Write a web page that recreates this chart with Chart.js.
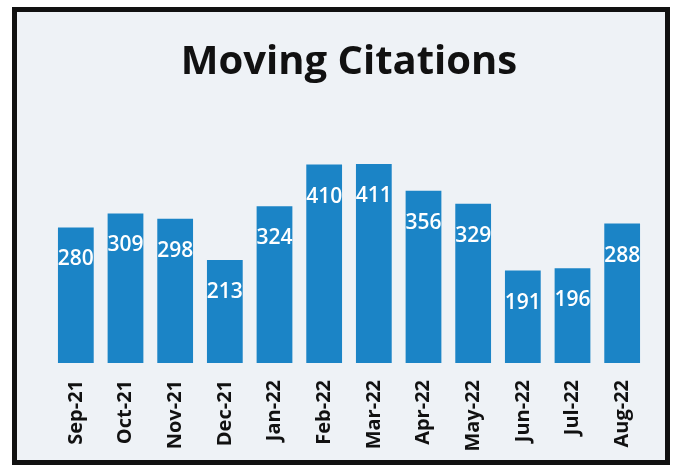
<!DOCTYPE html>
<html>
<head>
<meta charset="utf-8">
<script src="https://cdn.jsdelivr.net/npm/chart.js@4/dist/chart.umd.min.js"></script>
<style>
    body { margin: 0; background: #ffffff; }
    #frame {
        position: absolute;
        left: 12px;
        top: 7px;
        width: 658px;
        height: 458px;
        box-sizing: border-box;
        border: 5px solid #111111;
        background: #eef2f6;
    }
    #frame canvas { display: block; }
</style>
</head>
<body>
<div id="frame"><canvas id="citationChart" width="648" height="448"></canvas></div>
<script>
const months = ["Sep-21", "Oct-21", "Nov-21", "Dec-21", "Jan-22", "Feb-22",
                "Mar-22", "Apr-22", "May-22", "Jun-22", "Jul-22", "Aug-22"];
const citations = [280, 309, 298, 213, 324, 410, 411, 356, 329, 191, 196, 288];

document.addEventListener("DOMContentLoaded", () => {

    const canvas = document.getElementById("citationChart");

    // white numbers sitting just under the top of each bar
    const valueLabels = {
        id: "valueLabels",
        afterDatasetsDraw(chart) {
            const ctx = chart.ctx;
            const meta = chart.getDatasetMeta(0);
            ctx.save();
            ctx.fillStyle = "#ffffff";
            ctx.font = "600 21px 'Open Sans'";
            ctx.textAlign = "center";
            ctx.textBaseline = "middle";
            meta.data.forEach((bar, i) => {
                ctx.fillText(String(citations[i]), bar.x, bar.y + 32);
            });
            ctx.restore();
        }
    };

    new Chart(canvas, {
        type: "bar",
        data: {
            labels: months,
            datasets: [{
                label: "Moving Citations",
                data: citations,
                backgroundColor: "#1b84c6",
                categoryPercentage: 1,
                barPercentage: 0.72
            }]
        },
        options: {
            responsive: false,
            animation: false,
            layout: {
                padding: { left: 34, right: 18, top: 0, bottom: 0 }
            },
            plugins: {
                legend: { display: false },
                tooltip: { enabled: false },
                title: {
                    display: true,
                    text: "Moving Citations",
                    color: "#111111",
                    font: { family: "'Open Sans'", size: 40, weight: "bold" },
                    padding: { top: 27, bottom: 34 }
                }
            },
            scales: {
                x: {
                    grid: { display: false, drawTicks: false },
                    border: { display: false },
                    ticks: {
                        color: "#111111",
                        font: { family: "'Open Sans'", size: 20, weight: "bold" },
                        minRotation: 90,
                        maxRotation: 90,
                        padding: 17
                    },
                    afterFit: (axis) => { axis.height = 97; }
                },
                y: {
                    display: false,
                    min: 0,
                    max: 500
                }
            }
        },
        plugins: [valueLabels]
    });

});
</script>
</body>
</html>
